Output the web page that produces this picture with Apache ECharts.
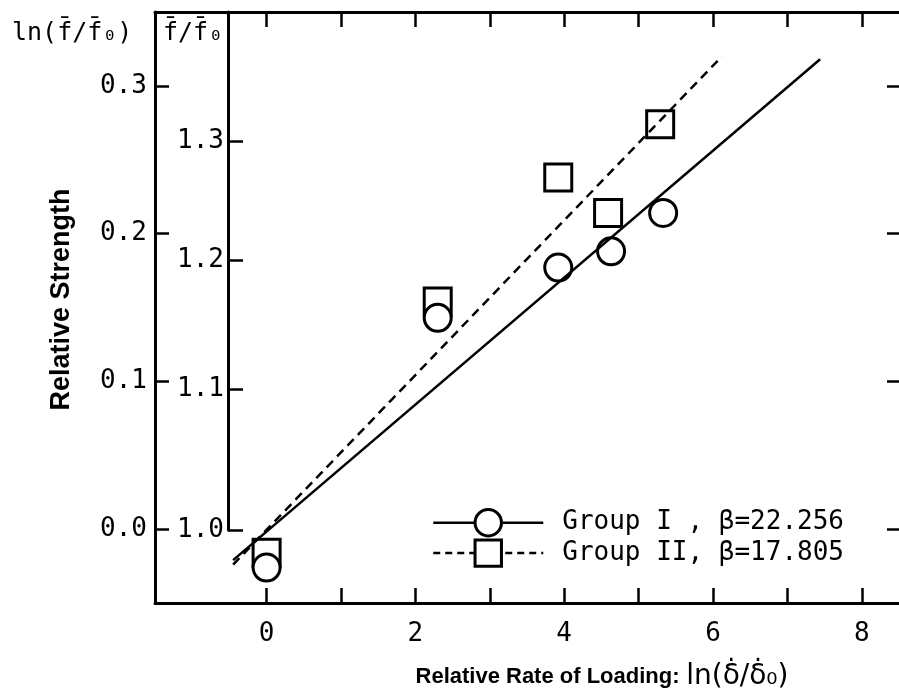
<!DOCTYPE html>
<html>
<head>
<meta charset="utf-8">
<script src="https://cdn.jsdelivr.net/npm/echarts@6/dist/echarts.min.js"></script>
<style>
html, body { margin: 0; background: #fff; }
#main { width: 899px; height: 696px; }
</style>
</head>
<body>
<div id="main"></div>
<script>
// measured points: Group I (circles), Group II (squares)
var xGroup1 = [0, 2.30, 3.92, 4.63, 5.33];
var yGroup1 = [-0.026, 0.143, 0.177, 0.188, 0.214];
var xGroup2 = [0, 2.30, 3.92, 4.59, 5.29];
var yGroup2 = [-0.016, 0.154, 0.238, 0.214, 0.274];

// fitted lines, end points
var xFit1 = [-0.45, 7.44];
var yFit1 = [-0.021, 0.318];
var xFit2 = [-0.45, 6.12];
var yFit2 = [-0.024, 0.320];

var name1 = 'Group I , \u03b2=22.256';
var name2 = 'Group II, \u03b2=17.805';

// ticks
var xTicks = [0, 1, 2, 3, 4, 5, 6, 7, 8];
var xLabels = [0, 2, 4, 6, 8];
var lnTicks = [0, 0.1, 0.2, 0.3];
var ratioTicks = [1.0, 1.1, 1.2, 1.3];

var mono = 'DejaVu Sans Mono';
var sans = 'Liberation Sans';

function pairs(xs, ys) {
    var out = [];
    for (var i = 0; i < xs.length; i++) out.push([xs[i], ys[i]]);
    return out;
}

var myChart = echarts.init(document.getElementById('main'), null, {renderer: 'canvas'});

var frameLine = {show: true, onZero: false, lineStyle: {color: '#000', width: 3}};
var tickStyle = {color: '#000', width: 2.5};
var markStyle = {color: '#fff', borderColor: '#000', borderWidth: 3, opacity: 1};

var option = {
    backgroundColor: '#fff',
    animation: false,
    grid: [
        {left: 155, right: 0, top: 12, bottom: 92},
        // inner f/f0 axis, from 1.0 up to the top frame
        {left: 228, right: 0, top: 12, height: 518}
    ],
    xAxis: [
        {
            gridIndex: 0, type: 'value', position: 'bottom', min: -1.5, max: 8.5,
            axisLine: frameLine,
            axisTick: {inside: true, length: 15, lineStyle: tickStyle, customValues: xTicks},
            axisLabel: {customValues: xLabels, margin: 18, color: '#000', fontFamily: mono, fontSize: 26},
            splitLine: {show: false},
            name: '{b|Relative Rate of Loading:}  {m|ln(\u03b4\u0307/\u03b4\u0307\u2080)}',
            nameLocation: 'middle', nameGap: 60,
            nameTextStyle: {
                padding: [0, 0, 0, 150],
                rich: {
                    b: {fontFamily: sans, fontWeight: 'bold', fontSize: 22, color: '#000'},
                    m: {fontFamily: 'DejaVu Sans', fontSize: 28, color: '#000'}
                }
            }
        },
        {
            gridIndex: 0, type: 'value', position: 'top', min: -1.5, max: 8.5,
            axisLine: frameLine,
            axisTick: {inside: true, length: 15, lineStyle: tickStyle, customValues: xTicks},
            axisLabel: {show: false},
            splitLine: {show: false}
        },
        {gridIndex: 1, type: 'value', min: -1.5, max: 8.5, show: false}
    ],
    yAxis: [
        {
            gridIndex: 0, type: 'value', position: 'left', min: -0.05, max: 0.35,
            axisLine: frameLine,
            axisTick: {inside: true, length: 14, lineStyle: tickStyle, customValues: lnTicks},
            axisLabel: {
                customValues: lnTicks, margin: 8, color: '#000', fontFamily: mono, fontSize: 26,
                formatter: function (v) { return v.toFixed(1); }
            },
            splitLine: {show: false},
            name: 'Relative Strength',
            nameLocation: 'middle', nameRotate: 90, nameGap: 80,
            nameTextStyle: {fontFamily: sans, fontWeight: 'bold', fontSize: 27, color: '#000', padding: [0, 0, 0, 16]}
        },
        {
            gridIndex: 0, type: 'value', position: 'right', min: -0.05, max: 0.35,
            axisLine: {show: false, onZero: false},
            axisTick: {show: true, inside: true, length: 12, lineStyle: tickStyle, customValues: lnTicks},
            axisLabel: {show: false},
            splitLine: {show: false}
        },
        {
            gridIndex: 1, type: 'value', position: 'left', min: 0, max: 0.35,
            axisLine: frameLine,
            axisTick: {
                inside: true, length: 15, lineStyle: tickStyle,
                customValues: ratioTicks.map(Math.log)
            },
            axisLabel: {
                customValues: ratioTicks.map(Math.log), margin: 4, color: '#000', fontFamily: mono, fontSize: 26,
                formatter: function (v) { return Math.exp(v).toFixed(1); }
            },
            splitLine: {show: false}
        }
    ],
    legend: {
        orient: 'vertical',
        left: 432, top: 508,
        padding: 0,
        itemWidth: 110, itemHeight: 33, itemGap: 1,
        textStyle: {fontFamily: mono, fontSize: 26, color: '#000', padding: [0, 0, 0, 14]},
        data: [
            {name: name1, itemStyle: markStyle,
             lineStyle: {color: '#000', width: 2.5, type: 'solid'}},
            {name: name2, itemStyle: markStyle,
             lineStyle: {color: '#000', width: 2.5, type: [7, 5]}}
        ]
    },
    graphic: [
        {type: 'text', left: 12, top: 21, z: 100,
         style: {text: 'ln(f\u0304/f\u0304\u2080)', font: '25px "DejaVu Sans Mono"', fill: '#000'}},
        {type: 'text', left: 163, top: 21, z: 100,
         style: {text: 'f\u0304/f\u0304\u2080', font: '25px "DejaVu Sans Mono"', fill: '#000'}}
    ],
    series: [
        {
            name: name1, type: 'line', xAxisIndex: 0, yAxisIndex: 0,
            data: pairs(xFit1, yFit1),
            symbol: 'circle', showSymbol: false, silent: true,
            lineStyle: {color: '#000', width: 2.5},
            itemStyle: markStyle
        },
        {
            name: name2, type: 'line', xAxisIndex: 0, yAxisIndex: 0,
            data: pairs(xFit2, yFit2),
            symbol: 'rect', showSymbol: false, silent: true,
            lineStyle: {color: '#000', width: 2.5, type: [9, 6]},
            itemStyle: markStyle
        },
        {
            name: 'Group II points', type: 'scatter', xAxisIndex: 0, yAxisIndex: 0,
            data: pairs(xGroup2, yGroup2),
            symbol: 'rect', symbolSize: 27,
            itemStyle: markStyle
        },
        {
            name: 'Group I points', type: 'scatter', xAxisIndex: 0, yAxisIndex: 0,
            data: pairs(xGroup1, yGroup1),
            symbol: 'circle', symbolSize: 27,
            itemStyle: markStyle
        }
    ]
};

myChart.setOption(option);
window.onresize = myChart.resize;
</script>
</body>
</html>
